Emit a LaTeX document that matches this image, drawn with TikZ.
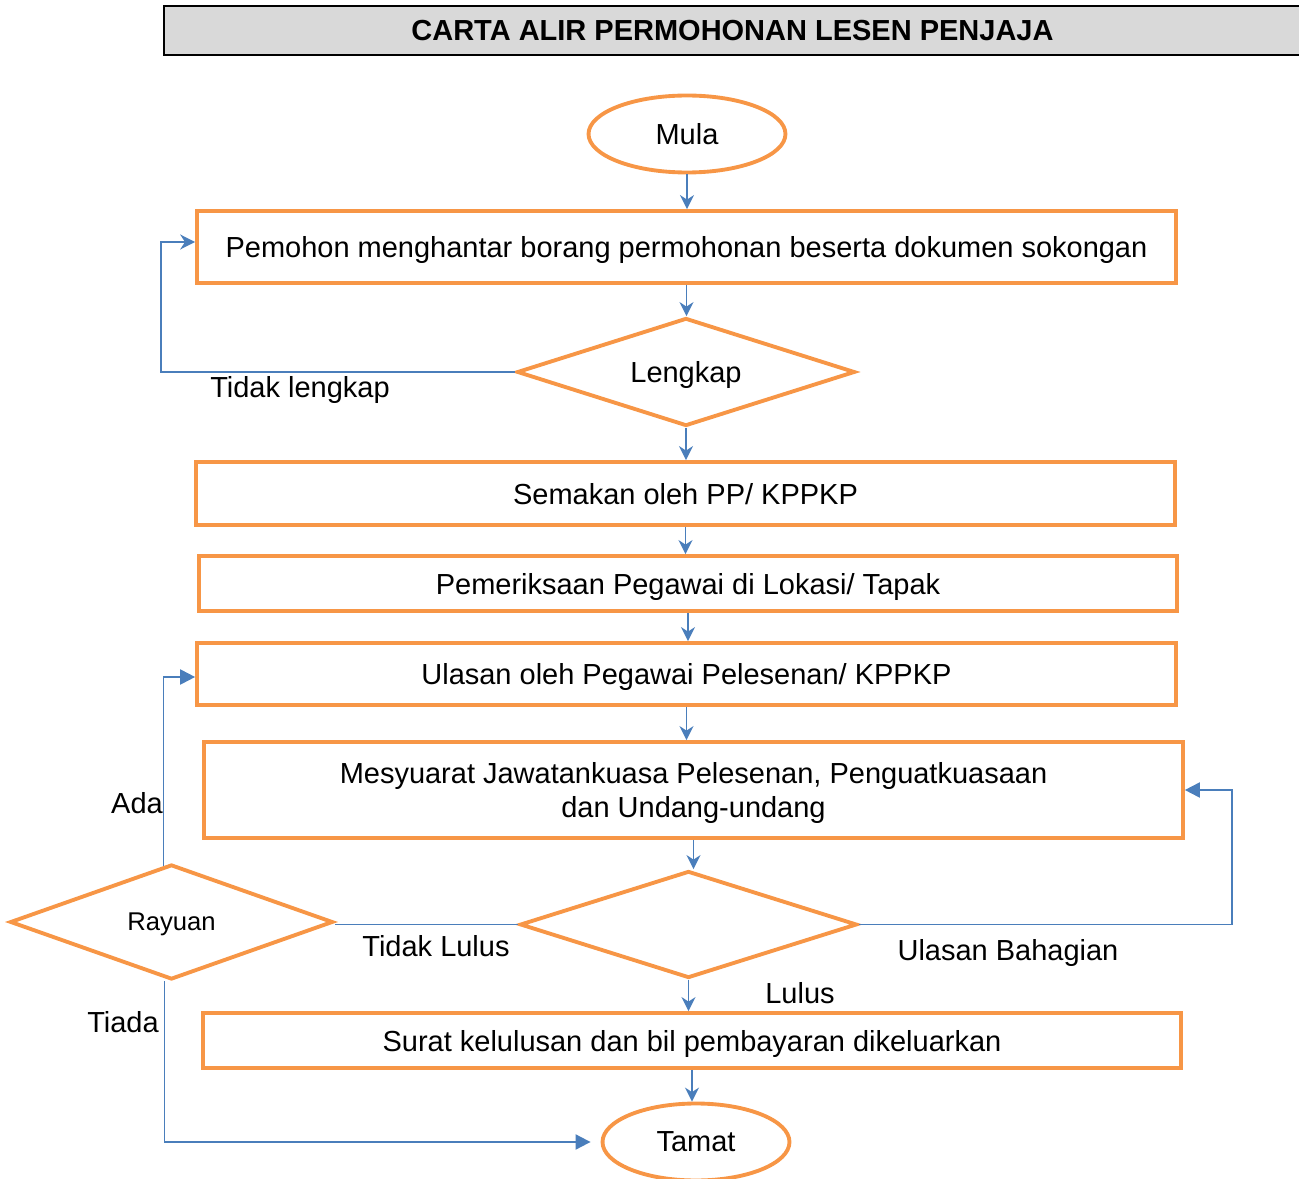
\documentclass[tikz,border=0pt]{standalone}
\usepackage{fontspec}
\setmainfont{Liberation Sans}
\usetikzlibrary{arrows.meta, shapes.geometric, calc}
\definecolor{corange}{HTML}{F79646}
\definecolor{cblue}{HTML}{4A7EBB}
\definecolor{cgrey}{HTML}{D9D9D9}
\tikzset{
  every picture/.style={font=\fontsize{16.5}{19.3}\selectfont},
  langkah/.style={draw=corange, line width=2.2pt, minimum width=19.58cm, align=center, inner sep=0pt, text depth=0pt},
  terminal/.style={ellipse, draw=corange, line width=2.2pt, inner sep=0pt, minimum height=1.54cm},
  semak/.style={diamond, draw=corange, line width=2.2pt, inner sep=0pt, align=center, shape aspect=3.1, text depth=0pt},
  flow/.style={-{Stealth[length=0.28cm, width=0.28cm]}, draw=cblue, line width=1.1pt},
  balik/.style={-{Triangle[length=0.3cm, width=0.3cm]}, draw=cblue, line width=1.1pt},
  catatan/.style={inner sep=0pt},
  tajuk/.style={draw=black, fill=cgrey, line width=0.9pt, font=\fontsize{16.5}{19.3}\selectfont\bfseries, minimum width=22.74cm, minimum height=0.98cm},
}

\begin{document}
\begin{tikzpicture}[x=0.02cm, y=-0.02cm]
  \useasboundingbox (0,0) rectangle (1299,1179);

  % title
  \node[tajuk] (tajuk) at (732.5,30.5) {CARTA ALIR PERMOHONAN LESEN PENJAJA};

  % main column
  \node[terminal, minimum width=3.94cm] (mula) at (687,134) {Mula};
  \node[langkah, minimum height=1.44cm] (pemohon) at (686.5,247) {Pemohon menghantar borang permohonan beserta dokumen sokongan};
  \node[semak, minimum width=6.76cm, minimum height=2.16cm] (lengkap) at (686,372) {Lengkap};
  \node[langkah, minimum height=1.26cm] (semakan) at (685.5,493.5) {Semakan oleh PP/ KPPKP};
  \node[langkah, minimum height=1.1cm] (periksa) at (688,583.5) {Pemeriksaan Pegawai di Lokasi/ Tapak};
  \node[langkah, minimum height=1.24cm] (ulasan) at (686.5,674) {Ulasan oleh Pegawai Pelesenan/ KPPKP};
  \node[langkah, minimum height=1.92cm] (mesyuarat) at (693.5,790) {Mesyuarat Jawatankuasa Pelesenan, Penguatkuasaan\\dan Undang-undang};
  \node[semak, minimum width=6.74cm, minimum height=2.14cm] (keputusan) at (688.5,924.5) {};
  \node[langkah, minimum height=1.1cm] (surat) at (692,1040.5) {Surat kelulusan dan bil pembayaran dikeluarkan};
  \node[terminal, minimum width=3.74cm] (tamat) at (696,1142) {Tamat};

  % appeal
  \node[semak, shape aspect=2.8, minimum width=6.46cm, minimum height=2.3cm, font=\fontsize{14.6}{17}\selectfont] (rayuan) at (171.5,922) {Rayuan};

  \foreach \a/\b in {mula/pemohon, pemohon/lengkap, lengkap/semakan, semakan/periksa, periksa/ulasan, ulasan/mesyuarat, mesyuarat/keputusan, keputusan/surat, surat/tamat}
    \draw[flow] (\a.south) -- (\a.south |- \b.north);

  % loops
  \draw[flow, -{Stealth[length=0.3cm, width=0.3cm]}] (lengkap.west) -| ([xshift=-0.68cm, yshift=0.1cm]pemohon.west) -- ([yshift=0.1cm]pemohon.west);
  \draw[balik] (keputusan.east) -| ([xshift=0.94cm]mesyuarat.east) -- (mesyuarat.east);
  \draw[draw=cblue, line width=1.1pt] (keputusan.west) -- (keputusan.west -| rayuan.east);
  \draw[balik] ([xshift=-0.16cm, yshift=-0.06cm]rayuan.north) |- ([yshift=-0.06cm]ulasan.west);
  \draw[balik, shorten >=0.2cm] ([xshift=-0.14cm]rayuan.south) |- (tamat.west);

  % labels
  \node[catatan] (tl) at (300,390) {Tidak lengkap};
  \node[catatan] (ada) at (137,803) {Ada};
  \node[catatan] (tlulus) at (436,946) {Tidak Lulus};
  \node[catatan] (ub) at (1008,953) {Ulasan Bahagian};
  \node[catatan] (lulus) at (800,993) {Lulus};
  \node[catatan] (tiada) at (123,1022) {Tiada};
\end{tikzpicture}
\end{document}
